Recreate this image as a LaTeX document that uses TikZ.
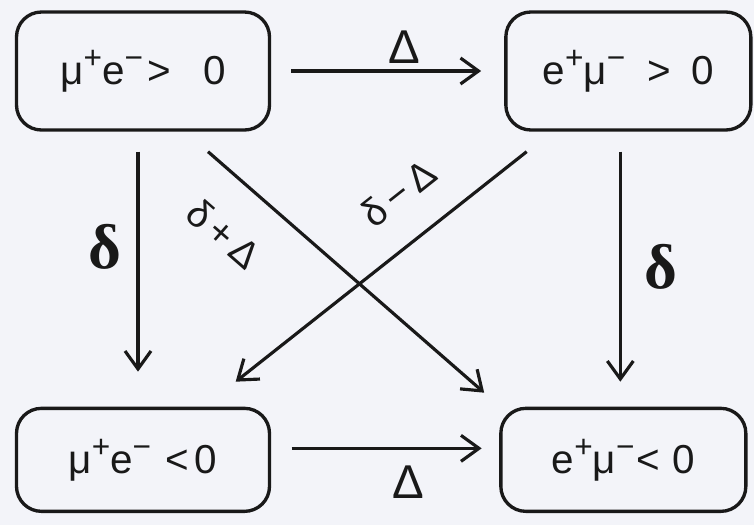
\documentclass[tikz,border=0pt]{standalone}
\usepackage{fontspec}
\setmainfont{Liberation Sans}
\newfontfamily\rateFont{Liberation Serif}
\usepackage{tikz}
\usetikzlibrary{arrows.meta, positioning, calc}
\definecolor{colPaper}{RGB}{243,244,249}
\definecolor{colInk}{RGB}{25,25,25}
\newcommand\chg[1]{\raisebox{0.4em}{\fontsize{18}{20}\selectfont #1}}
\tikzset{
  stateBox/.style={
    rectangle, rounded corners=0.5cm,
    draw=colInk, line width=1.9pt,
    text=colInk, font=\fontsize{23}{26}\selectfont,
    minimum width=5.06cm, minimum height=2.36cm,
    inner sep=0pt
  },
  arr/.style={
    -{Straight Barb[length=0.36cm, width=0.52cm]}, line width=1.8pt, color=colInk
  },
  splitLabel/.style={
    font=\fontsize{27}{30}\selectfont, text=colInk
  },
  rateLabel/.style={
    font=\rateFont\bfseries\fontsize{36}{40}\selectfont, text=colInk, inner sep=0pt
  },
  diagLabel/.style={
    font=\fontsize{22}{24}\selectfont, text=colInk, inner sep=0pt
  }
}

\begin{document}
\begin{tikzpicture}

\fill[colPaper] (0,0) rectangle (15.08,-10.5);
\useasboundingbox (0,0) rectangle (15.08,-10.5);

%% ==============================================================
%% States
%% ==============================================================

% --- upper row ---
\node[stateBox] (muePos) at (2.86,-1.42) {%
  μ\chg{+}e\chg{−}\hspace{0.1em}>\hspace{0.8em}0};
\node[stateBox, minimum width=4.9cm, right=4.66cm of muePos] (emuPos) {%
  e\chg{+}μ\chg{−}\hspace{0.55em}>\hspace{0.5em}0};

% --- lower row ---
\node[stateBox, minimum height=2.06cm, below=5.5cm of muePos] (mueNeg) {%
  μ\chg{+}e\chg{−}\hspace{0.35em}<\hspace{0.15em}0};
\node[stateBox, minimum width=4.9cm, minimum height=2.06cm,
      right=4.56cm of mueNeg] (emuNeg) {%
  e\chg{+}μ\chg{−}\hspace{0.05em}<\hspace{0.3em}0};

%% ==============================================================
%%  ARROWS
%% ==============================================================

% Delta steps (horizontal)
\draw[arr, shorten <=0.4cm, shorten >=0.46cm] (muePos) --
    node[splitLabel, above, pos=0.57] (topSplit) {Δ} (emuPos);
\draw[arr, shorten <=0.41cm, shorten >=0.35cm]
    ([yshift=0.23cm]mueNeg.east) --
    node[splitLabel, below=0.2cm, pos=0.6] (botSplit) {Δ}
    ([yshift=0.23cm]emuNeg.west);

% delta steps (vertical)
\draw[arr, shorten <=0.4cm, shorten >=0.7cm]
    ([xshift=-0.1cm]muePos.south) --
    node[rateLabel, left=0.3cm, pos=0.42] (leftRate) {δ}
    ([xshift=-0.1cm]muePos.south |- mueNeg.north);
\draw[arr, shorten <=0.4cm, shorten >=0.5cm]
    ([xshift=-0.16cm]emuPos.south) --
    node[rateLabel, right=0.45cm, pos=0.49] (rightRate) {δ}
    ([xshift=-0.16cm]emuPos.south |- emuNeg.north);

% crossed steps
\draw[arr] ([xshift=1.3cm,yshift=-0.4cm]muePos.south) --
    node[diagLabel, sloped, below=0.72cm, pos=0.18] (sumLabel) {δ\,+\,Δ}
    ([xshift=-0.3cm,yshift=0.28cm]emuNeg.north west);
\draw[arr] ([xshift=0.45cm,yshift=-0.4cm]emuPos.south west) --
    node[diagLabel, sloped, above=0.62cm, pos=0.34] (diffLabel) {δ\,−\,Δ}
    ([xshift=-0.71cm,yshift=0.5cm]mueNeg.north east);

\end{tikzpicture}
\end{document}
